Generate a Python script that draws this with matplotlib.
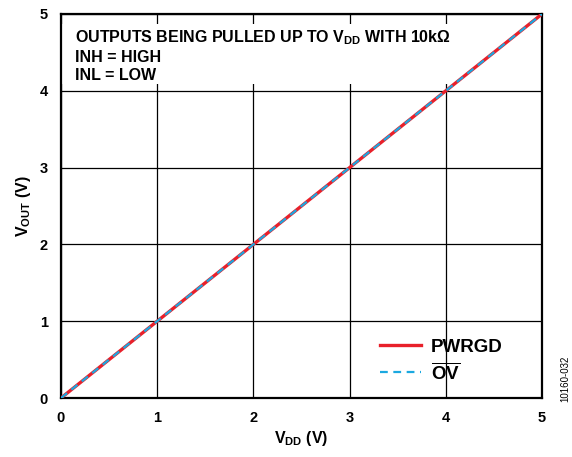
import matplotlib
matplotlib.use("Agg")
import matplotlib.pyplot as plt
from matplotlib.patches import Rectangle

# -----------------------------
# Data
# -----------------------------
vdd = [0, 1, 2, 3, 4, 5]
pwrgd = [0, 1, 2, 3, 4, 5]
ov = [0, 1, 2, 3, 4, 5]
ticks = [0, 1, 2, 3, 4, 5]

# -----------------------------
# Style
# -----------------------------
plt.rcParams["font.family"] = ["Liberation Sans", "DejaVu Sans"]
plt.rcParams["font.weight"] = "bold"
plt.rcParams["mathtext.fontset"] = "custom"
plt.rcParams["mathtext.rm"] = "Liberation Sans:bold"
plt.rcParams["mathtext.bf"] = "Liberation Sans:bold"
plt.rcParams["mathtext.it"] = "Liberation Sans:bold"

fig = plt.figure(figsize=(5.72, 4.57), dpi=100)
ax = fig.add_axes([0.1066, 0.1291, 0.841, 0.8403])

ax.plot(vdd, pwrgd, color="#E8202A", lw=2.4, label="PWRGD", zorder=3)
ax.plot(vdd, ov, color="#1BA8E0", lw=1.6, ls=(0, (3.5, 2.5)),
        label=r"$\overline{\mathrm{OV}}$", zorder=4)

ax.set_xlim(0, 5)
ax.set_ylim(0, 5)
ax.set_xticks(ticks)
ax.set_yticks(ticks)
ax.set_axisbelow(True)
ax.grid(True, color="black", lw=0.9)
ax.tick_params(length=0, labelsize=10.5, pad=9.5)
for s in ax.spines.values():
    s.set_linewidth(1.6)

# white box behind the note, grid only shows as short stubs
ax.add_patch(Rectangle((0, 4.09), 5, 0.78, facecolor="white",
                       edgecolor="none", zorder=1.5))

ax.set_xlabel(r"$\mathrm{V_{DD}}$ (V)", fontsize=11.5, fontweight="bold",
              labelpad=3)
ax.set_ylabel(r"$\mathrm{V_{OUT}}$ (V)", fontsize=11.5, fontweight="bold",
              labelpad=5)

ax.text(0.029, 0.962, r"OUTPUTS BEING PULLED UP TO $\mathrm{V_{DD}}$ WITH 10kΩ"
        "\nINH = HIGH\nINL = LOW", transform=ax.transAxes,
        fontsize=11.5, fontweight="bold", va="top", linespacing=1.22,
        zorder=5)

leg = ax.legend(loc="lower right", frameon=False, fontsize=13.5,
                handlelength=2.2, handletextpad=0.5, labelspacing=0.35,
                bbox_to_anchor=(0.953, -0.005))

fig.text(0.988, 0.17, "10160-032", rotation=90, fontsize=7,
         fontweight="normal", ha="center", va="center")

fig.savefig("out.png", dpi=100)
